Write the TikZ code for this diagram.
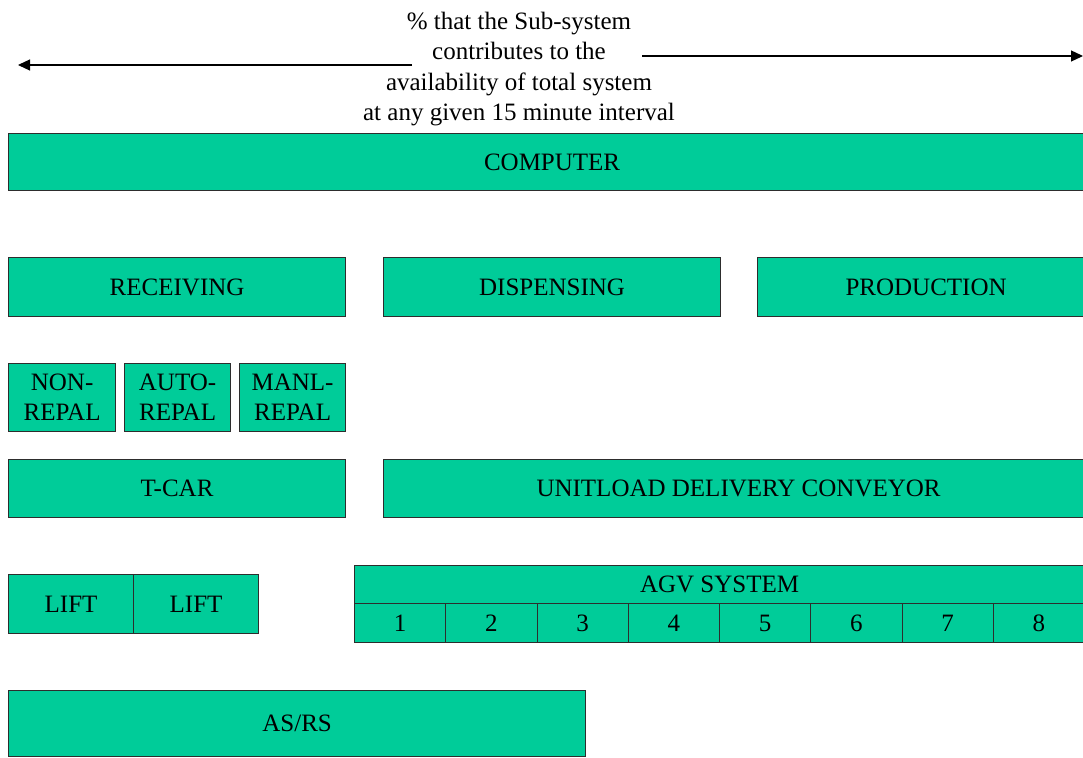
\documentclass[tikz,border=0pt]{standalone}
\usepackage{fontspec}
\setmainfont{Liberation Serif}
\usetikzlibrary{arrows.meta}
\definecolor{boxgreen}{RGB}{0,204,153}
\definecolor{boxline}{RGB}{45,45,45}
\begin{document}
\begin{tikzpicture}[x=1pt,y=-1pt,
  box/.style={draw=boxline, fill=boxgreen, line width=1.2pt, inner sep=0pt,
    anchor=north west, font=\fontsize{25}{30}\selectfont, align=center, text=black},
  arr/.style={line width=1.2pt, -{Triangle[length=12pt,width=11pt]}}]
\useasboundingbox (0,0) rectangle (1083,757);
% title and arrows
\node[font=\fontsize{25}{30.5}\selectfont, align=center, inner sep=0pt, anchor=base] (title) at (519,121)
  {\% that the Sub-system\\contributes to the\\availability of total system\\at any given 15 minute interval};
\coordinate (lstart) at (412,65);
\coordinate (ltip) at (18,65);
\coordinate (rstart) at (642,56);
\coordinate (rtip) at (1083,56);
\draw[arr] (lstart) -- (ltip);
\draw[arr] (rstart) -- (rtip);
% boxes
\node[box, minimum width=1087pt, minimum height=57pt] (computer) at (8,133) {COMPUTER};
\node[box, minimum width=337pt, minimum height=59pt] (receiving) at (8,257) {RECEIVING};
\node[box, minimum width=337pt, minimum height=59pt] (dispensing) at (383,257) {DISPENSING};
\node[box, minimum width=337pt, minimum height=59pt] (production) at (757,257) {PRODUCTION};
\node[box, minimum width=107pt, minimum height=68pt] (nonrepal) at (8,363) {NON-\\REPAL};
\node[box, minimum width=106pt, minimum height=68pt] (autorepal) at (124,363) {AUTO-\\REPAL};
\node[box, minimum width=106pt, minimum height=68pt] (manlrepal) at (239,363) {MANL-\\REPAL};
\node[box, minimum width=337pt, minimum height=58pt] (tcar) at (8,459) {T-CAR};
\node[box, minimum width=710pt, minimum height=58pt] (unitload) at (383,459) {UNITLOAD DELIVERY CONVEYOR};
\node[box, minimum width=125pt, minimum height=59pt] (lift1) at (8,574) {LIFT};
\node[box, minimum width=125pt, minimum height=59pt] (lift2) at (133,574) {LIFT};
\node[box, minimum width=730pt, minimum height=38pt] (agv) at (354,565) {AGV SYSTEM};
\foreach \i in {1,...,8}
  \node[box, minimum width=91.25pt, minimum height=39pt] (agv\i) at ({354+(\i-1)*91.25},603) {\i};
\node[box, minimum width=577pt, minimum height=66pt] (asrs) at (8,690) {AS/RS};
\end{tikzpicture}
\end{document}
